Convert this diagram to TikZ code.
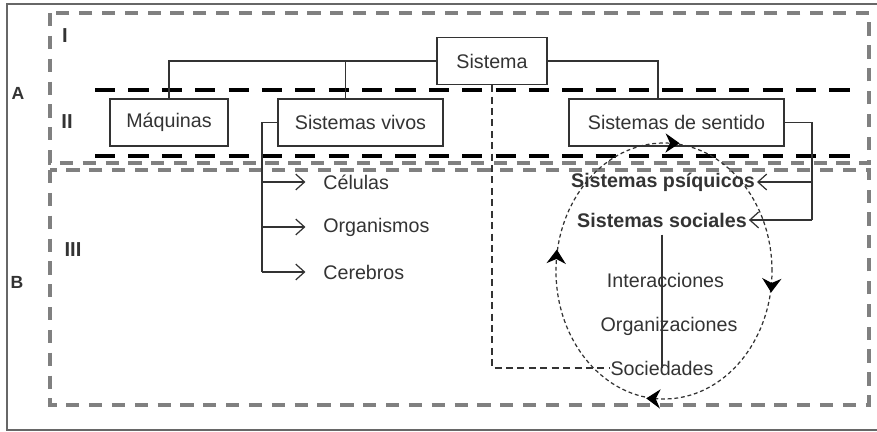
\documentclass[tikz,border=0pt]{standalone}
\usepackage{fontspec}
\setmainfont{Liberation Sans}
\usetikzlibrary{arrows.meta,decorations.markings}
\definecolor{ink}{HTML}{333333}
\definecolor{zonegray}{HTML}{808080}
\begin{document}
\begin{tikzpicture}[x=0.02cm, y=0.02cm]
		\tikzstyle{every node}+=[inner sep=0pt, text=ink, font=\fontsize{11.2}{13}\selectfont]
		\tikzstyle{box}=[draw=ink, line width=0.7pt, minimum height=0.94cm]
		\tikzstyle{roman}=[font=\fontsize{11.5}{13}\selectfont\bfseries]
		\tikzstyle{part}=[font=\fontsize{10}{12}\selectfont\bfseries]
		\tikzstyle{zone}=[draw=zonegray, line width=2pt, dash pattern=on 7.5pt off 5.5pt]
		\tikzstyle{level}=[draw=black, line width=2.3pt, dash pattern=on 11.5pt off 7.5pt]
		\tikzstyle{link}=[draw=ink, line width=0.7pt]
		\tikzstyle{arr}=[link, -{Straight Barb[length=5pt,width=9pt]}]
		\tikzstyle{ring}=[draw=ink, line width=0.7pt, dash pattern=on 2.2pt off 1.6pt,
			postaction={decorate}, decoration={markings,
			mark=at position 0.248 with {\arrow[black, solid]{Stealth[reversed,length=8pt,width=11pt]}},
			mark=at position 0.49 with {\arrow[black, solid]{Stealth[reversed,length=8pt,width=11pt]}},
			mark=at position 0.745 with {\arrow[black, solid]{Stealth[reversed,length=8pt,width=11pt]}},
			mark=at position 0.99 with {\arrow[black, solid]{Stealth[reversed,length=8pt,width=11pt]}}}]
		\useasboundingbox (0,0) rectangle (877,-432);
		% frame and zones
		\draw [zonegray!80!black, line width=0.8pt] (877,-4) -| (7,-430) -- (877,-430);
		\draw [zone] (50,-13) rectangle (869,-163);
		\draw [zone] (50,-170) rectangle (869,-405);
		\draw [level] (95,-90) -- (857,-90);
		\draw [level] (95,-156) -- (857,-156);
		\node [part] (pa) at (18,-93) {A};
		\node [part] (pb) at (17,-282) {B};
		\node [roman] (r1) at (65,-36) {I};
		\node [roman] (r2) at (67,-122) {II};
		\node [roman] (r3) at (73,-250) {III};
		% boxes
		\node [box, minimum width=2.2cm] (sis) at (492,-61) {Sistema};
		\node [box, minimum width=2.36cm] (maq) at (169,-122.5) {Máquinas};
		\node [box, minimum width=3.3cm] (viv) at (360.5,-122.5) {Sistemas vivos};
		\node [box, minimum width=4.3cm] (sen) at (676.5,-122.5) {Sistemas de sentido};
		\draw [link] (sis.west) -| (maq.north);
		\draw [link] ([xshift=-0.3cm]viv.north) -- ([xshift=-0.3cm]viv.north |- sis.west);
		\draw [link] (sis.east) -| ([xshift=-0.37cm]sen.north);
		% living systems
		\node [anchor=west] (cel) at (323,-182) {Células};
		\node [anchor=west] (org) at (323,-227) {Organismos};
		\node [anchor=west] (cer) at (323,-272) {Cerebros};
		\coordinate (vtrunk) at (262,-272);
		\draw [link] (viv.west) -| (vtrunk);
		\draw [arr, shorten >=10pt] (cel.west -| vtrunk) -- (cel.west);
		\draw [arr, shorten >=10pt] (org.west -| vtrunk) -- (org.west);
		\draw [arr, shorten >=10pt] (cer.west -| vtrunk) -- (cer.west);
		% meaning systems
		\draw [ring] (664,-271) ellipse (108 and 128);
		\node [font=\fontsize{11.2}{13}\selectfont\bfseries] (psi) at (663,-182) {Sistemas psíquicos};
		\node [font=\fontsize{11.2}{13}\selectfont\bfseries] (sso) at (662,-220) {Sistemas sociales};
		\node (int) at (665.5,-280) {Interacciones};
		\node (ogz) at (669,-326) {Organizaciones};
		\node (soc) at (662,-368) {Sociedades};
		\coordinate (strunk) at (812,-220);
		\draw [link] (sen.east) -| (strunk);
		\draw [arr] (psi.east -| strunk) -- ([xshift=1pt]psi.east);
		\draw [arr] (strunk) -- ([xshift=1pt]sso.east);
		\draw [link, shorten <=4pt] (sso.south) -- (soc.center);
		\draw [link, dash pattern=on 4pt off 2.5pt] (sis.south) |- (soc.west);
\end{tikzpicture}
\end{document}
